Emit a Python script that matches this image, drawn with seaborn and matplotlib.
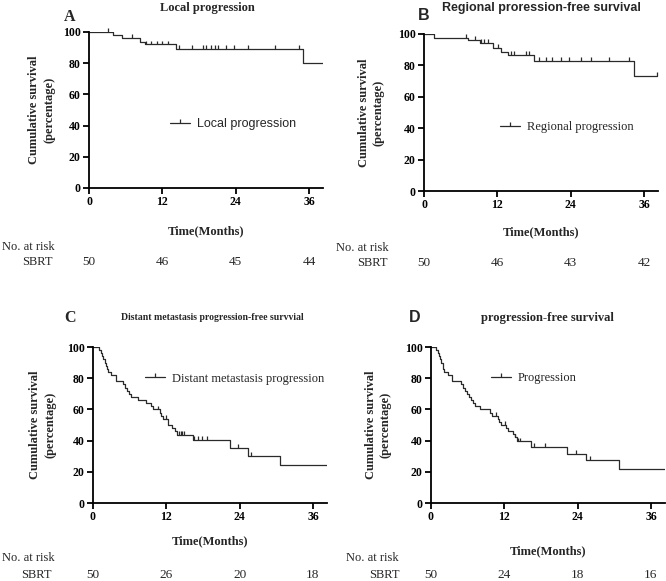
import numpy as np
import pandas as pd
import matplotlib
matplotlib.use("Agg")
import matplotlib.pyplot as plt
import matplotlib.transforms as mtransforms
from matplotlib.lines import Line2D
from matplotlib.path import Path
import seaborn as sns

# ---------------- data ----------------
A_time = [0, 3.9, 5.4, 8.3, 9.1, 14.2, 35.1, 38.3]
A_surv = [100, 98, 96, 93.8, 92.0, 89.1, 80.2, 80.2]
A_cens = [3.1, 7.0, 9.4, 10.2, 11.1, 11.9, 13.0, 14.7, 16.8, 18.7, 19.2, 20.0,
          20.6, 21.1, 22.5, 23.8, 26.0, 30.4, 34.3]

B_time = [0, 1.7, 7.2, 9.1, 11.3, 12.6, 13.7, 18.0, 34.4, 38.2]
B_surv = [100, 97.6, 96.0, 94.1, 90.9, 88.8, 86.6, 82.8, 73.4, 73.4]
B_cens = [6.9, 8.3, 9.3, 9.9, 10.4, 12.1, 14.2, 14.8, 16.7, 17.2, 18.9, 20.0,
          21.0, 22.4, 23.8, 25.7, 27.3, 30.3, 33.6, 38.2]

C_time = [0, 1.0, 1.3, 1.5, 1.7, 1.9, 2.1, 2.3, 2.5, 3.0, 3.8, 4.9, 5.3, 5.6,
          5.9, 6.3, 7.3, 8.7, 9.5, 9.8, 11.0, 11.2, 11.4, 12.3, 13.0, 13.5,
          13.8, 16.4, 22.4, 25.4, 30.6, 38.3]
C_surv = [100, 98, 96, 94, 92, 90, 88, 86, 84, 82, 78, 76, 74, 72,
          70, 68, 66, 64, 62, 60, 58, 56, 54, 50, 48, 46,
          43.8, 40.6, 35.3, 30.3, 24.4, 24.4]
C_cens = [10.7, 12.0, 14.1, 14.4, 14.6, 14.9, 16.6, 17.2, 17.9, 18.6, 23.8, 25.8]

D_time = [0, 0.8, 1.1, 1.3, 1.5, 1.7, 1.9, 2.0, 2.2, 2.8, 3.5, 4.9, 5.3, 5.6,
          5.9, 6.2, 6.5, 6.9, 7.2, 8.0, 9.7, 10.0, 11.0, 11.2, 11.4, 12.3,
          12.6, 13.5, 13.8, 14.1, 16.3, 22.3, 25.4, 30.7, 38.5]
D_surv = [100, 98, 96, 94, 92, 90, 88, 86, 84, 82, 78, 76, 74, 72,
          70, 68, 66, 64, 62, 60, 58, 56, 54, 52, 50, 48,
          46, 44, 42, 39.5, 36, 31.6, 27.4, 21.8, 21.8]
D_cens = [10.7, 12.05, 13.8, 14.2, 14.6, 16.8, 18.6, 23.7, 26.0]

risk_times = [0, 12, 24, 36]
A_risk = [50, 46, 45, 44]
B_risk = [50, 46, 43, 42]
C_risk = [50, 26, 20, 18]
D_risk = [50, 24, 18, 16]

titles = ["Local progression", "Regional proression-free survival",
          "Distant metastasis progression-free survvial", "progression-free survival"]
letters = ["A", "B", "C", "D"]
legend_labels = ["Local progression", "Regional progression",
                 "Distant metastasis progression", "Progression"]
x_ticks = [0, 12, 24, 36]
y_ticks = [0, 20, 40, 60, 80, 100]

# ---------------- style ----------------
sns.set_style("ticks")
SERIF = ["Liberation Serif", "DejaVu Serif"]
SANS = ["Liberation Sans", "DejaVu Sans"]
plt.rcParams["font.family"] = SERIF
LINE = "#2a2a2a"
CENSOR = Path([(0, 0), (0, 1)], [Path.MOVETO, Path.LINETO])

W, H = 666, 581
fig = plt.figure(figsize=(W / 100, H / 100), dpi=100)


def px_axes(l, t, r, b):
    return fig.add_axes([l / W, 1 - b / H, (r - l) / W, (b - t) / H])


panels = [
    dict(time=A_time, surv=A_surv, cens=A_cens, risk=A_risk,
         box=(89, 32, 323, 188), title_xy=(0.504, 1.155), title_font=SERIF, title_size=9,
         letter_xy=(-0.081, 1.096), letter_font=SERIF,
         leg_xy=(0.346, 0.41), leg_font=SANS,
         ylab_x=-0.145, xlab_y=-0.237,
         norisk=(2, 247), sbrt=(53, 262), risk_y=262),
    dict(time=B_time, surv=B_surv, cens=B_cens, risk=B_risk,
         box=(424, 34, 658, 191), title_xy=(0.5, 1.166), title_font=SANS, title_size=9,
         letter_xy=(0.0, 1.12), letter_font=SANS,
         leg_xy=(0.325, 0.408), leg_font=SERIF,
         ylab_x=-0.17, xlab_y=-0.223,
         norisk=(336, 248), sbrt=(388, 263), risk_y=263),
    dict(time=C_time, surv=C_surv, cens=C_cens, risk=C_risk,
         box=(93, 347, 327, 503), title_xy=(0.51, 1.188), title_font=SERIF, title_size=7,
         letter_xy=(-0.098, 1.188), letter_font=SERIF,
         leg_xy=(0.221, 0.797), leg_font=SERIF,
         ylab_x=-0.158, xlab_y=-0.21,
         norisk=(2, 558), sbrt=(52, 575), risk_y=575),
    dict(time=D_time, surv=D_surv, cens=D_cens, risk=D_risk,
         box=(431, 347, 665, 503), title_xy=(0.496, 1.186), title_font=SERIF, title_size=9,
         letter_xy=(-0.068, 1.186), letter_font=SANS,
         leg_xy=(0.256, 0.8), leg_font=SERIF,
         ylab_x=-0.169, xlab_y=-0.27,
         norisk=(346, 558), sbrt=(400, 575), risk_y=575),
]


def step_value(times, surv, t):
    idx = np.searchsorted(np.asarray(times), t, side="right") - 1
    return np.asarray(surv)[idx]


for i, p in enumerate(panels):
    ax = px_axes(*p["box"])
    df = pd.DataFrame({"t": p["time"], "s": p["surv"]})
    sns.lineplot(data=df, x="t", y="s", ax=ax, drawstyle="steps-post",
                 estimator=None, color=LINE, linewidth=0.9, sort=True)
    cdf = pd.DataFrame({"t": p["cens"],
                        "s": [step_value(p["time"], p["surv"], c) for c in p["cens"]]})
    sns.scatterplot(data=cdf, x="t", y="s", ax=ax, marker=CENSOR, s=30,
                    facecolor="none", edgecolor=LINE, linewidth=0.9,
                    clip_on=False, zorder=3)

    ax.set_xlim(0, 38.3)
    ax.set_ylim(0, 100)
    ax.set_xticks(x_ticks)
    ax.set_yticks(y_ticks)
    sns.despine(ax=ax)
    for sp in ("left", "bottom"):
        ax.spines[sp].set_linewidth(1.3)
        ax.spines[sp].set_color("black")
    ax.tick_params(direction="out", length=4, width=1.3, pad=2,
                   labelsize=8.5, colors="black")
    for lab in ax.get_xticklabels() + ax.get_yticklabels():
        lab.set_fontweight("bold")
        lab.set_family(SERIF)

    ax.set_xlabel("Time(Months)", fontsize=9, fontweight="bold")
    ax.xaxis.set_label_coords(0.5, p["xlab_y"])
    ax.set_ylabel("Cumulative survival\n(percentage)", fontsize=9,
                  fontweight="bold", linespacing=1.3)
    ax.yaxis.set_label_coords(p["ylab_x"], 0.5)

    ax.text(*p["title_xy"], titles[i], transform=ax.transAxes, ha="center",
            va="center", fontsize=p["title_size"], fontweight="bold",
            family=p["title_font"])
    ax.text(*p["letter_xy"], letters[i], transform=ax.transAxes, ha="center",
            va="center", fontsize=11.5, fontweight="bold", family=p["letter_font"])

    handle = Line2D([], [], color=LINE, linewidth=0.9, marker=CENSOR,
                    markersize=6, markeredgewidth=0.9, markeredgecolor=LINE)
    ax.legend(handles=[handle], labels=[legend_labels[i]], loc="center left",
              bbox_to_anchor=p["leg_xy"], frameon=False, borderpad=0,
              borderaxespad=0, handlelength=1.6, handletextpad=0.55,
              numpoints=1, prop={"family": p["leg_font"], "size": 9})

    # number-at-risk table
    fig.text(p["norisk"][0] / W, 1 - p["norisk"][1] / H, "No. at risk",
             ha="left", va="center", fontsize=9)
    fig.text(p["sbrt"][0] / W, 1 - p["sbrt"][1] / H, "SBRT",
             ha="right", va="center", fontsize=9)
    trans = mtransforms.blended_transform_factory(ax.transData, fig.transFigure)
    for t, n in zip(risk_times, p["risk"]):
        ax.text(t, 1 - p["risk_y"] / H, str(n), transform=trans, ha="center",
                va="center", fontsize=9.5, clip_on=False)

fig.savefig("out.png", dpi=100, facecolor="white")
